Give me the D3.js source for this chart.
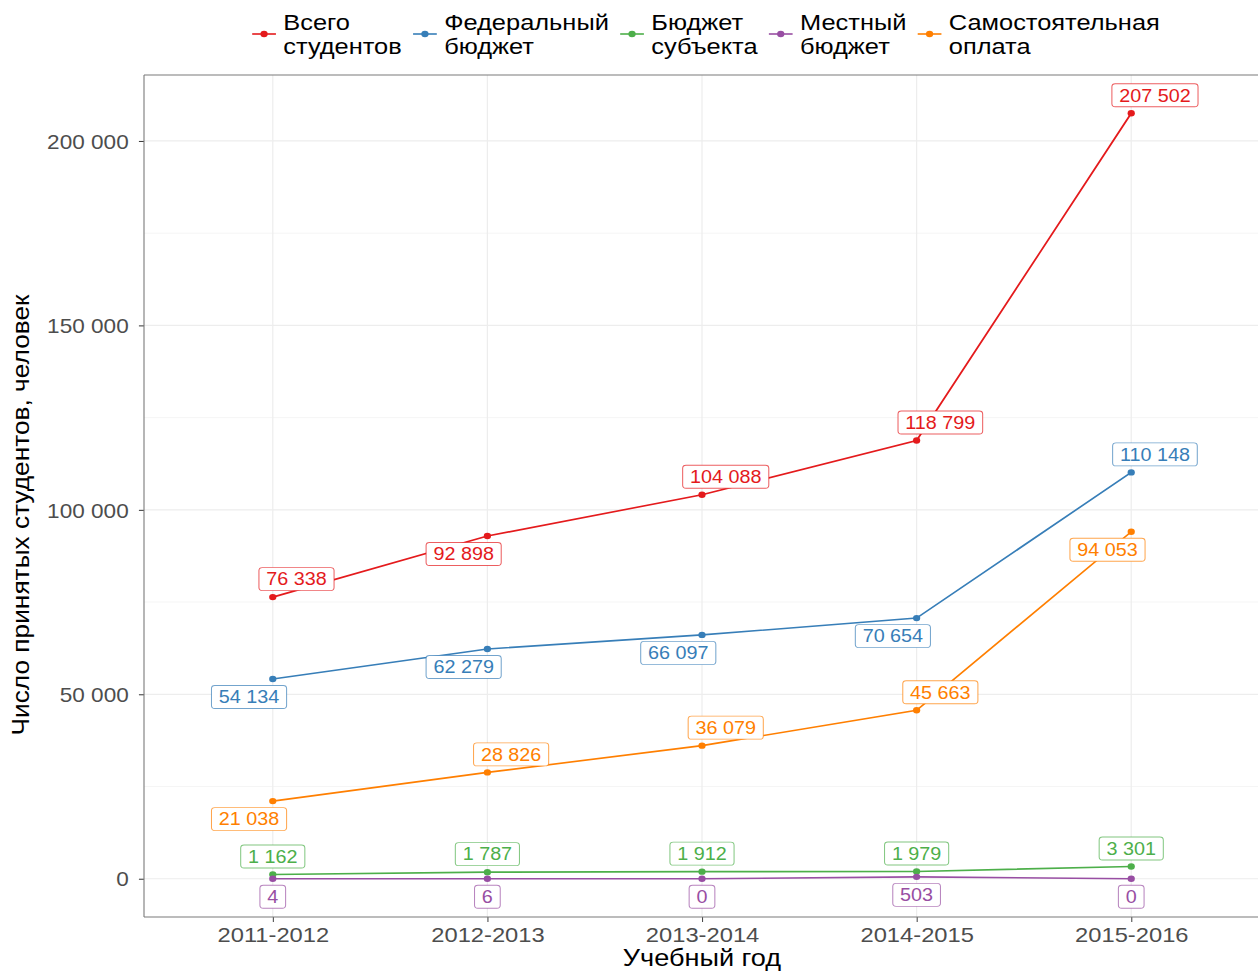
<!DOCTYPE html>
<html>
<head>
<meta charset="utf-8">
<script src="https://cdn.jsdelivr.net/npm/d3@7"></script>
<style>
  html, body { margin: 0; padding: 0; background: #ffffff; overflow: hidden; }
  svg { display: block; }
  text { font-family: "Liberation Sans", Arial, Helvetica, sans-serif; }
</style>
</head>
<body>
<div id="chart"></div>
<script>
// Academic years on the x axis
const categories = ["2011-2012", "2012-2013", "2013-2014", "2014-2015", "2015-2016"];

// Admitted students by funding source
const totalStudents  = [76338, 92898, 104088, 118799, 207502];
const federalBudget  = [54134, 62279, 66097, 70654, 110148];
const regionalBudget = [1162, 1787, 1912, 1979, 3301];
const localBudget    = [4, 6, 0, 503, 0];
const selfFunded     = [21038, 28826, 36079, 45663, 94053];

// Legend entries (two lines each)
const seriesNames = [
  ["Всего", "студентов"],
  ["Федеральный", "бюджет"],
  ["Бюджет", "субъекта"],
  ["Местный", "бюджет"],
  ["Самостоятельная", "оплата"]
];
const seriesColors = ["#E41A1C", "#377EB8", "#4DAF4A", "#984EA3", "#FF7F00"];

const yTicks = [0, 50000, 100000, 150000, 200000];
const yMinorTicks = [25000, 75000, 125000, 175000];

const xTitle = "Учебный год";
const yTitle = "Число принятых студентов, человек";

// Which side of its point each value label sits on (repelled layout)
const labelSideX = [
  [ 1, -1,  1,  1,  1],
  [-1, -1, -1, -1,  1],
  [ 0,  0,  0,  0,  0],
  [ 0,  0,  0,  0,  0],
  [-1,  1,  1,  1, -1]
];
const labelSideY = [
  [-1,  1, -1, -1, -1],
  [ 1,  1,  1,  1, -1],
  [-1, -1, -1, -1, -1],
  [ 1,  1,  1,  1,  1],
  [ 1, -1, -1, -1,  1]
];

const seriesValues = [totalStudents, federalBudget, regionalBudget, localBudget, selfFunded];

// ---- layout ----
const WIDTH = 1258, HEIGHT = 972;
const SX = 1.13;                       // horizontal stretch of the drawing
const IW = WIDTH / SX;                 // inner drawing width
// panel edges given in page pixels, converted to inner units
const panel = { left: 144 / SX, right: 1260 / SX, top: 75, bottom: 917 };

const ru = d3.formatLocale({ decimal: ",", thousands: " ", grouping: [3], currency: ["", ""] });
const fmt = ru.format(",d");

const svg = d3.select("#chart").append("svg")
  .attr("width", WIDTH).attr("height", HEIGHT)
  .attr("viewBox", `0 0 ${IW} ${HEIGHT}`)
  .attr("preserveAspectRatio", "none")
  .style("overflow", "hidden");

const allValues = seriesValues.flat();
const vMin = d3.min(allValues), vMax = d3.max(allValues);
const pad = (vMax - vMin) * 0.05;

const x = d3.scalePoint().domain(categories).range([panel.left, panel.right]).padding(0.6);
const y = d3.scaleLinear().domain([vMin - pad, vMax + pad]).range([panel.bottom, panel.top]);

const clipId = "panel-clip";
svg.append("clipPath").attr("id", clipId).append("rect")
  .attr("x", panel.left).attr("y", panel.top)
  .attr("width", panel.right - panel.left).attr("height", panel.bottom - panel.top);

// ---- grid ----
const grid = svg.append("g").attr("clip-path", `url(#${clipId})`);
grid.selectAll(".yminor").data(yMinorTicks).join("line")
  .attr("x1", panel.left).attr("x2", panel.right)
  .attr("y1", d => y(d)).attr("y2", d => y(d))
  .attr("stroke", "#f3f3f3").attr("stroke-width", 0.8);
grid.selectAll(".ymajor").data(yTicks).join("line")
  .attr("x1", panel.left).attr("x2", panel.right)
  .attr("y1", d => y(d)).attr("y2", d => y(d))
  .attr("stroke", "#ededed").attr("stroke-width", 1.2);
grid.selectAll(".xmajor").data(categories).join("line")
  .attr("x1", d => x(d)).attr("x2", d => x(d))
  .attr("y1", panel.top).attr("y2", panel.bottom)
  .attr("stroke", "#ededed").attr("stroke-width", 1.2 / SX);

// ---- axes ----
const yAxis = d3.axisLeft(y).tickValues(yTicks).tickFormat(fmt).tickSize(4.5).tickPadding(9);
const gy = svg.append("g").attr("transform", `translate(${panel.left},0)`).call(yAxis);
gy.select(".domain").remove();
gy.selectAll(".tick line").attr("stroke", "#333333").attr("stroke-width", 1);
gy.selectAll(".tick text").attr("fill", "#4d4d4d").style("font-size", "20px")
  .attr("dy", "0.36em");

const xAxis = d3.axisBottom(x).tickSize(5).tickPadding(5);
const gx = svg.append("g").attr("transform", `translate(0,${panel.bottom})`).call(xAxis);
gx.select(".domain").remove();
gx.selectAll(".tick line").attr("stroke", "#333333").attr("stroke-width", 1 / SX);
gx.selectAll(".tick text").attr("fill", "#4d4d4d").style("font-size", "21px")
  .attr("dy", "0.72em");

// ---- series ----
const line = d3.line().x((d, i) => x(categories[i])).y(d => y(d));
const plot = svg.append("g").attr("clip-path", `url(#${clipId})`);

seriesValues.forEach((vals, s) => {
  plot.append("path").datum(vals)
    .attr("d", line)
    .attr("fill", "none")
    .attr("stroke", seriesColors[s])
    .attr("stroke-width", 1.6);
});
seriesValues.forEach((vals, s) => {
  plot.selectAll(null).data(vals).join("circle")
    .attr("cx", (d, i) => x(categories[i]))
    .attr("cy", d => y(d))
    .attr("r", 3.2)
    .attr("fill", seriesColors[s]);
});

// ---- value labels ----
const LX = 21, LY = 18, BOX_H = 23, BOX_PAD = 6.5;
seriesValues.forEach((vals, s) => {
  vals.forEach((v, i) => {
    const cx = x(categories[i]) + labelSideX[s][i] * LX;
    const cy = y(v) + labelSideY[s][i] * LY;
    const g = plot.append("g");
    const rect = g.append("rect");
    const t = g.append("text")
      .attr("x", cx).attr("y", cy).attr("dy", "0.36em")
      .attr("text-anchor", "middle")
      .style("font-size", "17.5px")
      .attr("fill", seriesColors[s])
      .text(fmt(v));
    const w = t.node().getComputedTextLength() + 2 * BOX_PAD;
    rect.attr("x", cx - w / 2).attr("y", cy - BOX_H / 2)
      .attr("width", w).attr("height", BOX_H)
      .attr("rx", 3).attr("ry", 3)
      .attr("fill", "#ffffff")
      .attr("stroke", seriesColors[s]).attr("stroke-opacity", 0.7)
      .attr("stroke-width", 0.9);
  });
});

// ---- panel border (right edge runs past the page) ----
const border = svg.append("g").attr("stroke", "#7a7a7a").attr("stroke-width", 1.1);
border.append("line").attr("x1", panel.left).attr("x2", IW + 20)
  .attr("y1", panel.top).attr("y2", panel.top);
border.append("line").attr("x1", panel.left).attr("x2", IW + 20)
  .attr("y1", panel.bottom).attr("y2", panel.bottom);
border.append("line").attr("x1", panel.left).attr("x2", panel.left)
  .attr("y1", panel.top).attr("y2", panel.bottom).attr("stroke-width", 1.1 / SX);

// ---- axis titles ----
svg.append("text")
  .attr("x", 702 / SX)
  .attr("y", 966)
  .attr("text-anchor", "middle")
  .style("font-size", "24px")
  .attr("fill", "#000")
  .text(xTitle);

svg.append("text")
  .attr("transform", `translate(${29 / SX},${515}) rotate(-90) scale(1,0.8)`)
  .attr("text-anchor", "middle")
  .style("font-size", "26.3px")
  .attr("fill", "#000")
  .text(yTitle);

// ---- legend ----
const legend = svg.append("g");
const KEY_W = 21, KEY_GAP = 6.5, ITEM_GAP = 10;
const items = seriesNames.map((lines, s) => {
  const g = legend.append("g");
  g.append("line").attr("x1", 0).attr("x2", KEY_W).attr("y1", 34).attr("y2", 34)
    .attr("stroke", seriesColors[s]).attr("stroke-width", 1.6);
  g.append("circle").attr("cx", KEY_W / 2).attr("cy", 34).attr("r", 3.2).attr("fill", seriesColors[s]);
  const t = g.append("text").style("font-size", "22.5px").attr("fill", "#000");
  lines.forEach((ln, k) => {
    t.append("tspan").attr("x", KEY_W + KEY_GAP).attr("y", 30.5 + k * 24).text(ln);
  });
  const tw = d3.max(t.selectAll("tspan").nodes(), n => n.getComputedTextLength());
  return { g, w: KEY_W + KEY_GAP + tw };
});
const totalW = d3.sum(items, d => d.w) + ITEM_GAP * (items.length - 1);
let lx = 706 / SX - totalW / 2;
items.forEach(it => {
  it.g.attr("transform", `translate(${lx},0)`);
  lx += it.w + ITEM_GAP;
});
</script>
</body>
</html>
